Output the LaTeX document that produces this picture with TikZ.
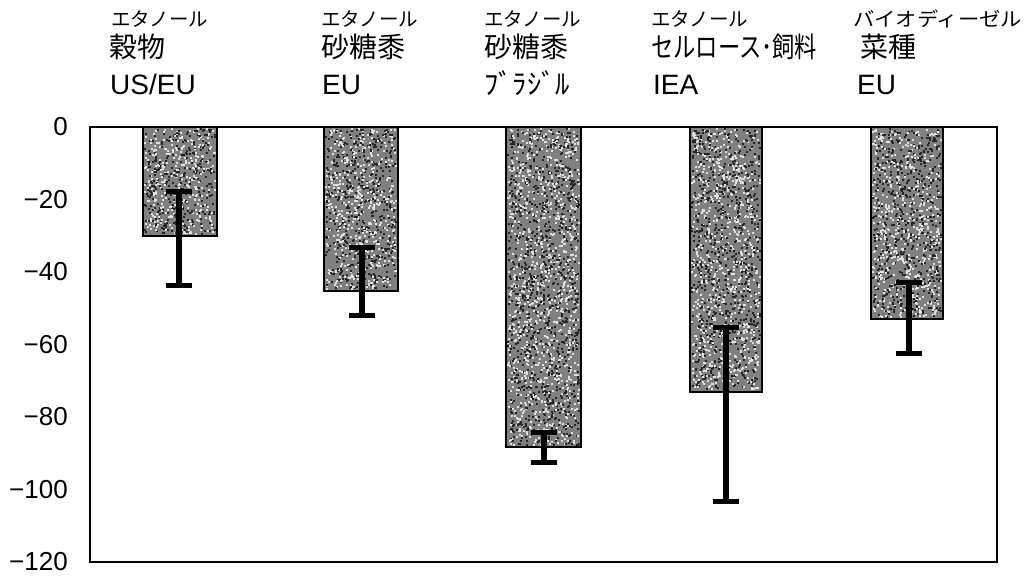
\documentclass[tikz,border=0pt]{standalone}
\usepackage{graphicx}
\usepackage{fontspec}
\setmainfont{Liberation Sans}
\newfontfamily\jp{Noto Sans CJK JP}
\newfontfamily\jpp[RawFeature=+palt]{Noto Sans CJK JP}
\newcommand\fitw[2]{\resizebox{#1}{\height}{#2}}
% grainy texture inside a bar: x0 y0 x1 y1 count
\newcommand\speckle[5]{%
  \foreach \i in {1,...,#5}{%
    \pgfmathsetmacro\rx{#1+1+rnd*(#3-#1-4)}%
    \pgfmathsetmacro\ry{#2+1+rnd*(#4-#2-4)}%
    \pgfmathsetmacro\rc{rnd}%
    \ifdim\rc pt<0.5pt
      \fill[grainD] (\rx,\ry) rectangle ++(2,2);
    \else
      \fill[grainL] (\rx,\ry) rectangle ++(2,2);
    \fi
  }}
\colorlet{grainD}{black!85}
\colorlet{grainL}{black!12}
\begin{document}
\begin{tikzpicture}[x=1pt,y=-1pt,
  barfill/.style={fill=black!50},
  bar/.style={draw=black,line width=1.6pt},
  errstem/.style={line width=6.5pt,black},
  errcap/.style={line width=5pt,black},
  frame/.style={draw=black,line width=1.8pt},
  tick/.style={anchor=east,font=\fontsize{26}{26}\selectfont,inner sep=0pt},
  hsmall/.style={anchor=base west,inner sep=0pt,font=\fontsize{19.5}{19.5}\selectfont\jp},
  hbig/.style={anchor=base west,inner sep=0pt,font=\fontsize{28}{28}\selectfont\jp},
  hlat/.style={anchor=base west,inner sep=0pt,font=\fontsize{28}{28}\selectfont}]
\useasboundingbox (0,0) rectangle (1030,580);
\fill[white] (0,0) rectangle (1030,580);
\pgfmathsetseed{7}
% bars
\foreach \xa/\xb/\yb/\n in {143/217/236/650, 324/398/291/1000, 506/581/447/2000, 690/762/392/1600, 871/943/319/1150}{
  \fill[barfill] (\xa,127) rectangle (\xb,\yb);
  \speckle{\xa}{127}{\xb}{\yb}{\n}
  \draw[bar] (\xa,127) rectangle (\xb,\yb);
}
% frame
\draw[frame] (90,127) rectangle (997,562);
% error bars
\foreach \cx/\t/\b in {179/192/285, 362/247/315, 544/432/462, 726/327/501, 909/282/353}{
  \coordinate (et) at (\cx,\t);
  \coordinate (eb) at (\cx,\b);
  \draw[errstem] (et) -- (eb);
  \draw[errcap] ([xshift=-13pt]et) -- ([xshift=13pt]et);
  \draw[errcap] ([xshift=-13pt]eb) -- ([xshift=13pt]eb);
}
% tick labels
\node[tick] (t0) at (68,127) {0};
\node[tick] (t1) at (68,199.5) {−20};
\node[tick] (t2) at (68,272) {−40};
\node[tick] (t3) at (68,344.5) {−60};
\node[tick] (t4) at (68,417) {−80};
\node[tick] (t5) at (68,489.5) {−100};
\node[tick] (t6) at (68,562) {−120};
% headers
\node[hsmall] (a1) at (111,27) {\fitw{97pt}{エタノール}};
\node[hbig]   (a2) at (109,58) {穀物};
\node[hlat]   (a3) at (110,95) {US/EU};
\node[hsmall] (b1) at (321,27) {\fitw{97pt}{エタノール}};
\node[hbig]   (b2) at (321,58) {砂糖黍};
\node[hlat]   (b3) at (322,95) {EU};
\node[hsmall] (c1) at (484,27) {\fitw{97pt}{エタノール}};
\node[hbig]   (c2) at (484,58) {砂糖黍};
\node[hbig]   (c3) at (484,95) {\fitw{86pt}{ﾌﾞﾗｼﾞﾙ}};
\node[hsmall] (d1) at (651,27) {\fitw{97pt}{エタノール}};
\node[hbig]   (d2) at (651,58) {\fitw{166pt}{セルロース･飼料}};
\node[hlat]   (d3) at (653,95) {IEA};
\node[hsmall] (e1) at (853,27) {\fitw{169pt}{バイオディーゼル}};
\node[hbig]   (e2) at (860,58) {菜種};
\node[hlat]   (e3) at (857,95) {EU};
\end{tikzpicture}
\end{document}
